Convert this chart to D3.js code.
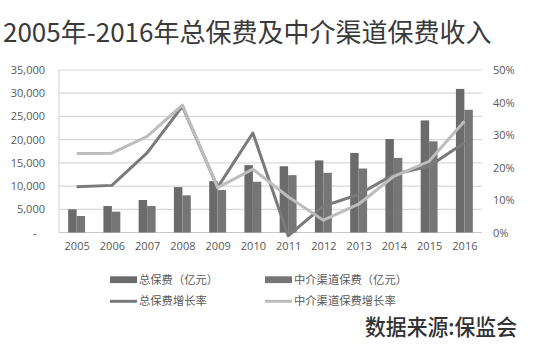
<!DOCTYPE html>
<html><head><meta charset="utf-8">
<script src="https://cdn.jsdelivr.net/npm/d3@7"></script>
<style>
html,body{margin:0;padding:0;background:#fff;}
svg{display:block;}
</style></head>
<body>
<script>
const years = ["2005","2006","2007","2008","2009","2010","2011","2012","2013","2014","2015","2016"];
const totalPremium = [4990, 5700, 7000, 9780, 11060, 14500, 14270, 15530, 17140, 20140, 24140, 30930];
const interPremium = [3560, 4500, 5700, 8000, 9140, 10930, 12350, 12860, 13780, 16070, 19640, 26430];
const totalGrowth = [14.1, 14.5, 24.5, 38.8, 13.9, 30.6, -1.0, 8.1, 11.7, 17.9, 20.4, 27.6];
const interGrowth = [24.3, 24.4, 29.6, 39.2, 13.8, 19.5, 11.0, 3.8, 8.7, 17.3, 21.9, 34.2];
const leftTicks = [0, 5000, 10000, 15000, 20000, 25000, 30000, 35000];
const rightTicks = [0, 10, 20, 30, 40, 50];
const seriesNames = ["总保费（亿元）", "中介渠道保费（亿元）", "总保费增长率", "中介渠道保费增长率"];
const titleText = "2005年-2016年总保费及中介渠道保费收入";
const sourceText = "数据来源:保监会";

const W = 540, H = 355;
const plot = {l: 59, r: 482, t: 70, b: 232.5};
const cTotal = "#6b6b6b", cInter = "#767676", cTG = "#7a7a7a", cIG = "#bdbdbd";
const cjk = "'Noto Sans CJK SC', 'Noto Sans', sans-serif";
const num = "'Open Sans', 'Noto Sans', sans-serif";

const svg = d3.select("body").append("svg").attr("width", W).attr("height", H);

svg.append("text").attr("x", 3).attr("y", 42)
  .attr("font-family", cjk).attr("font-size", 26).attr("fill", "#3a3a3a")
  .text(titleText);

const x = d3.scaleBand().domain(years).range([plot.l, plot.r]).paddingInner(0.52).paddingOuter(0.26);
const xc = d3.scalePoint().domain(years).range([plot.l, plot.r]).padding(0.5);
const yL = d3.scaleLinear().domain([0, 35000]).range([plot.b, plot.t]);
const yR = d3.scaleLinear().domain([0, 50]).range([plot.b, plot.t]);

// gridlines
svg.append("g").selectAll("line").data(leftTicks).join("line")
  .attr("x1", plot.l).attr("x2", plot.r)
  .attr("y1", d => yL(d)).attr("y2", d => yL(d))
  .attr("stroke", d => d === 0 ? "#c8c8c8" : "#d9d9d9").attr("stroke-width", 1.2);
svg.append("line").attr("x1", plot.l).attr("x2", plot.l).attr("y1", plot.t).attr("y2", plot.b)
  .attr("stroke", "#d9d9d9").attr("stroke-width", 1.2);

// left axis
const axL = svg.append("g").attr("transform", `translate(${plot.l - 14},0)`)
  .call(d3.axisLeft(yL).tickValues(leftTicks).tickSize(0).tickPadding(0)
    .tickFormat(d => d === 0 ? "-   " : d3.format(",")(d)));
axL.select(".domain").remove();
axL.selectAll("text").attr("font-family", num).attr("font-size", 11).attr("fill", "#595959")
  .attr("xml:space", "preserve").style("white-space", "pre");

// right axis
const axR = svg.append("g").attr("transform", `translate(${plot.r + 11},0)`)
  .call(d3.axisRight(yR).tickValues(rightTicks).tickSize(0).tickPadding(0).tickFormat(d => d + "%"));
axR.select(".domain").remove();
axR.selectAll("text").attr("font-family", num).attr("font-size", 11).attr("fill", "#595959");

// bottom axis
const axB = svg.append("g").attr("transform", `translate(0,${plot.b + 10})`)
  .call(d3.axisBottom(xc).tickSize(0).tickPadding(0));
axB.select(".domain").remove();
axB.selectAll("text").attr("font-family", num).attr("font-size", 11).attr("fill", "#595959");

// bars
const bw = x.bandwidth() / 2;
svg.append("g").selectAll("rect").data(years).join("rect")
  .attr("x", d => x(d)).attr("width", bw)
  .attr("y", (d, i) => yL(totalPremium[i])).attr("height", (d, i) => yL(0) - yL(totalPremium[i]))
  .attr("fill", cTotal);
svg.append("g").selectAll("rect").data(years).join("rect")
  .attr("x", d => x(d) + bw).attr("width", bw)
  .attr("y", (d, i) => yL(interPremium[i])).attr("height", (d, i) => yL(0) - yL(interPremium[i]))
  .attr("fill", cInter);

// lines
const line = arr => d3.line().x((d, i) => xc(years[i])).y(d => yR(d))(arr);
svg.append("path").attr("d", line(totalGrowth)).attr("fill", "none")
  .attr("stroke", cTG).attr("stroke-width", 3).attr("stroke-linejoin", "round");
svg.append("path").attr("d", line(interGrowth)).attr("fill", "none")
  .attr("stroke", cIG).attr("stroke-width", 3).attr("stroke-linejoin", "round");

// legend
const legend = [
  {name: seriesNames[0], type: "rect", color: cTotal, x: 110, y: 279.7},
  {name: seriesNames[1], type: "rect", color: cInter, x: 265, y: 279.7},
  {name: seriesNames[2], type: "line", color: cTG, x: 110, y: 301.3},
  {name: seriesNames[3], type: "line", color: cIG, x: 265, y: 301.3}
];
const lg = svg.append("g").selectAll("g").data(legend).join("g");
lg.filter(d => d.type === "rect").append("rect")
  .attr("x", d => d.x).attr("y", d => d.y - 3.4).attr("width", 27).attr("height", 6.8).attr("fill", d => d.color);
lg.filter(d => d.type === "line").append("line")
  .attr("x1", d => d.x).attr("x2", d => d.x + 27).attr("y1", d => d.y).attr("y2", d => d.y)
  .attr("stroke", d => d.color).attr("stroke-width", 3);
lg.append("text").attr("x", d => d.x + 29).attr("y", d => d.y).attr("dy", "0.35em")
  .attr("font-family", cjk).attr("font-size", 11.3).attr("fill", "#595959").text(d => d.name);

svg.append("text").attr("x", 365).attr("y", 335).attr("text-anchor", "start")
  .attr("font-family", cjk).attr("font-size", 22).attr("font-weight", 500).attr("fill", "#333")
  .attr("textLength", 152).attr("lengthAdjust", "spacingAndGlyphs")
  .text(sourceText);
</script>
</body></html>
